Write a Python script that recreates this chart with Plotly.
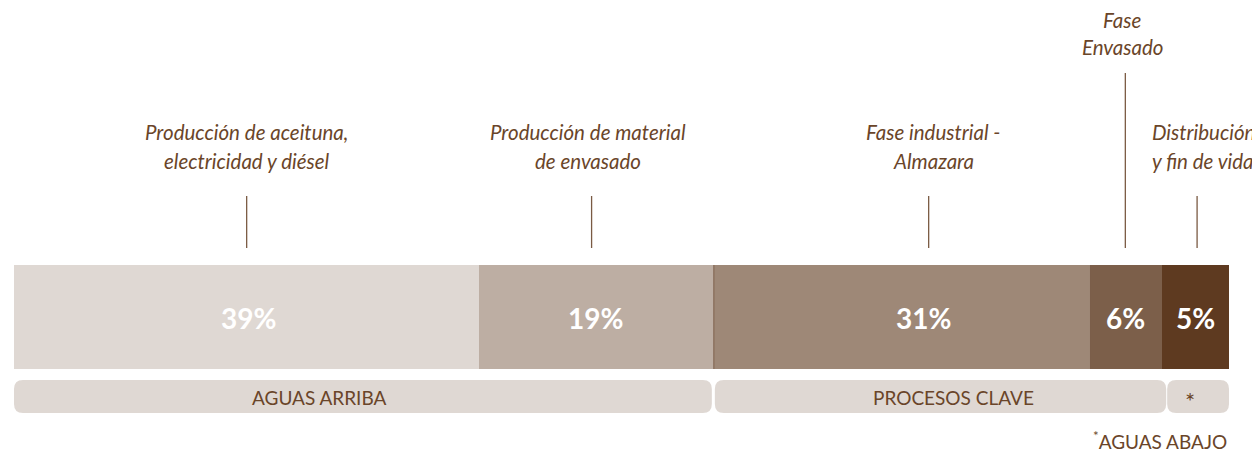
import plotly.graph_objects as go
import numpy as np

# ---- data ----
values = [38.3, 19.3, 31.0, 5.9, 5.5]          # bar widths (share of total, %)
pct_labels = ["39%", "19%", "31%", "6%", "5%"]
stage_labels = [
    "Producción de aceituna,\nelectricidad y diésel",
    "Producción de material\nde envasado",
    "Fase industrial -\nAlmazara",
    "Fase\nEnvasado",
    "Distribución\ny fin de vida",
]
group_names = ["AGUAS ARRIBA", "PROCESOS CLAVE", "*"]
group_members = [[0, 1], [2, 3], [4]]
footnote = "AGUAS ABAJO"

# ---- style ----
seg_colors = ["#dfd8d3", "#bdaea3", "#9e8877", "#7c5f4a", "#5e3a20"]
text_col = "#6a4529"
line_col = "#7a5a43"
pill_col = "#dfd8d3"
FONT = "Lato"

OFF = 8                     # page body margin
W, H = 1260 - OFF, 453 - OFF
ML, MR = 14 - OFF, 31
PX = 100.0 / (W - ML - MR)   # data units per pixel

cum = np.concatenate([[0], np.cumsum(values)])
centers = (cum[:-1] + cum[1:]) / 2

fig = go.Figure()
for v, c in zip(values, seg_colors):
    fig.add_trace(go.Bar(x=[v], y=[317], orientation="h", width=104,
                         marker=dict(color=c, line=dict(width=0)),
                         hoverinfo="skip", showlegend=False))

shapes = []
ann = []

# separators between segments 2|3 and 3|4
for b in [cum[2], cum[3]]:
    shapes.append(dict(type="line", x0=b, x1=b, y0=265, y1=369,
                       line=dict(color="#7c5f4a", width=1)))

# percent labels
pct_dx = [1.5, -1, 21.5, -1, 0]
for i, t in enumerate(pct_labels):
    ann.append(dict(x=centers[i], y=318, text=f"<b>{t}</b>", showarrow=False,
                    xshift=pct_dx[i], yanchor="middle",
                    font=dict(family=FONT, size=28, color="white")))

# stage labels + leader lines
label_dx = [0, -9, 31, -4, 7.5]
line_dx = [0, -5, 26.5, -1, 1.5]
label_y0 = [132, 132, 132, 20, 132]
line_top = [196, 196, 196, 73, 196]
for i, lab in enumerate(stage_labels):
    for k, ln in enumerate(lab.split("\n")):
        ann.append(dict(x=centers[i], y=label_y0[i] + 29 * k - (k * 2 if i == 3 else 0),
                        text=f"<i>{ln}</i>",
                        showarrow=False, xshift=label_dx[i], yanchor="middle",
                        font=dict(family=FONT, size=20.5, color=text_col)))
    xl = centers[i] + line_dx[i] * PX
    shapes.append(dict(type="line", x0=xl, x1=xl, y0=line_top[i], y1=248,
                       line=dict(color=line_col, width=1.3)))

# group pills
def rr(x0, x1, y0, y1, r):
    rx = r * PX
    return (f"M {x0+rx},{y0} L {x1-rx},{y0} Q {x1},{y0} {x1},{y0+r} "
            f"L {x1},{y1-r} Q {x1},{y1} {x1-rx},{y1} L {x0+rx},{y1} "
            f"Q {x0},{y1} {x0},{y1-r} L {x0},{y0+r} Q {x0},{y0} {x0+rx},{y0} Z")

pill_pad = [(0, -2), (1, 4), (5, 0)]
text_dx = [-43, 13, -8]
text_y = [397, 397, 400]
text_size = [19, 19, 24]
for g, (name, mem) in enumerate(zip(group_names, group_members)):
    x0 = cum[mem[0]] + pill_pad[g][0] * PX
    x1 = cum[mem[-1] + 1] + pill_pad[g][1] * PX
    shapes.append(dict(type="path", path=rr(x0, x1, 380, 413, 9),
                       fillcolor=pill_col, line=dict(width=0), layer="below"))
    ann.append(dict(x=(x0 + x1) / 2, y=text_y[g], text=name, showarrow=False,
                    xshift=text_dx[g], yanchor="middle",
                    font=dict(family=FONT, size=text_size[g], color=text_col)))

ann.append(dict(x=cum[-1], y=440, text=f"<sup>*</sup>{footnote}", showarrow=False,
                xanchor="right", yanchor="middle",
                font=dict(family=FONT, size=19, color=text_col)))

fig.update_layout(
    width=W, height=H, barmode="stack", bargap=0,
    margin=dict(l=ML, r=MR, t=0, b=0),
    paper_bgcolor="white", plot_bgcolor="white",
    xaxis=dict(range=[0, 100], visible=False, fixedrange=True),
    yaxis=dict(range=[453, OFF], visible=False, fixedrange=True),
    shapes=shapes, annotations=ann,
)
fig.write_html("out.html")
